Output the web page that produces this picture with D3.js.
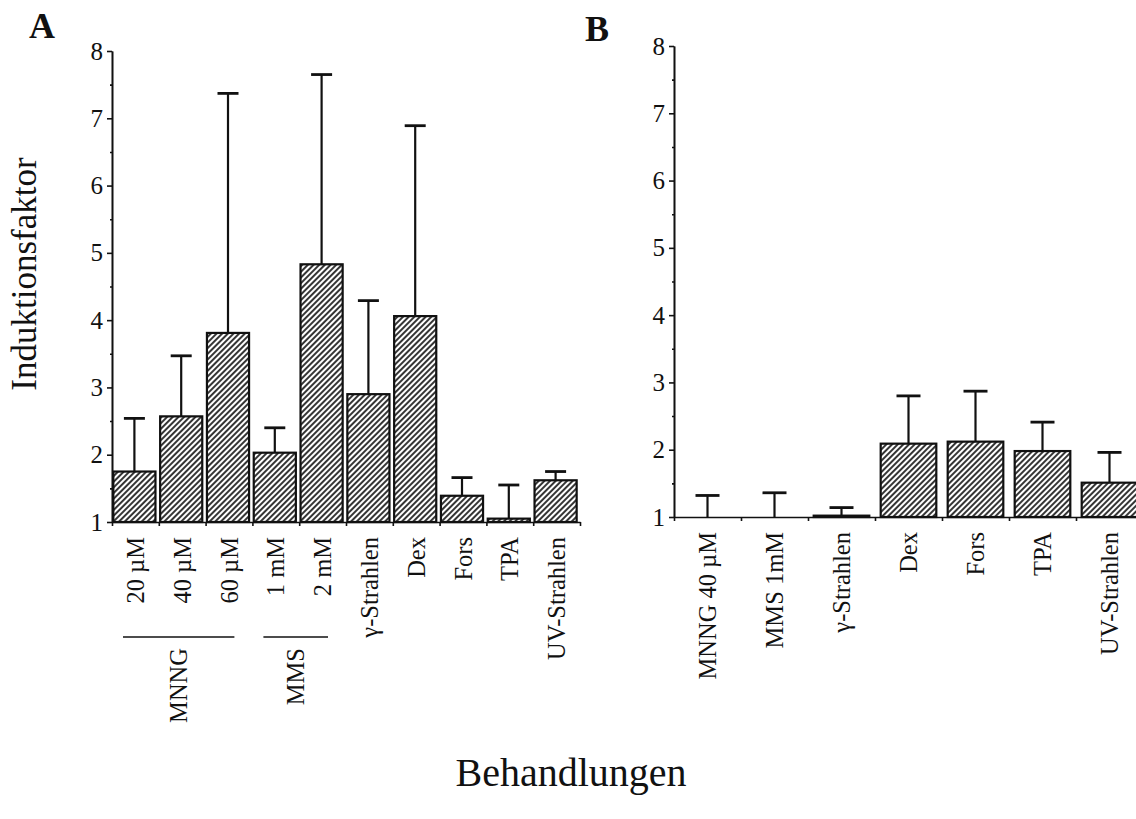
<!DOCTYPE html>
<meta charset="utf-8">
<style type="text/css">
    body { margin: 0; background: #fff; }
    text { font-family: "Liberation Serif", "Times New Roman", serif; fill: #111; }
    .axis path, .axis line { stroke: #111; stroke-width: 1.6; }
    .axis text { font-size: 25px; font-family: "Liberation Serif", serif; fill: #111; }
    .bar { fill: url(#hatch); stroke: #111; stroke-width: 2.2; }
    .err { stroke: #111; stroke-width: 2.2; fill: none; }
    .cap { stroke: #111; stroke-width: 2.8; }
    .cat { font-size: 24.5px; }
</style>
<body>
</body>
<script src="https://d3js.org/d3.v7.min.js"></script>
<script>

    // Panel A data
    var catsA = ["20 µM", "40 µM", "60 µM", "1 mM", "2 mM", "γ-Strahlen", "Dex", "Fors", "TPA", "UV-Strahlen"];
    var meanA = [1.75, 2.57, 3.81, 2.03, 4.83, 2.90, 4.06, 1.39, 1.05, 1.62];
    var upperA = [2.54, 3.47, 7.37, 2.40, 7.65, 4.29, 6.89, 1.66, 1.55, 1.75];

    // groups under panel A (first / last category index)
    var groupsA = [
        {name: "MNNG", from: 0, to: 2},
        {name: "MMS", from: 3, to: 4}
    ];

    // Panel B data
    var catsB = ["MNNG 40 µM", "MMS 1mM", "γ-Strahlen", "Dex", "Fors", "TPA", "UV-Strahlen"];
    var meanB = [1.0, 1.0, 1.02, 2.09, 2.12, 1.98, 1.51];
    var upperB = [1.32, 1.36, 1.14, 2.80, 2.87, 2.41, 1.96];

    var yTicks = [1, 2, 3, 4, 5, 6, 7, 8];
    var yMinor = [1.5, 2.5, 3.5, 4.5, 5.5, 6.5, 7.5];

    var width = 1136, height = 819;

    var svg = d3.select("body").append("svg")
        .attr("width", width)
        .attr("height", height);

    // diagonal hatch for the bars
    var pat = svg.append("defs").append("pattern")
        .attr("id", "hatch")
        .attr("patternUnits", "userSpaceOnUse")
        .attr("width", 4)
        .attr("height", 4)
        .attr("patternTransform", "rotate(45)");
    pat.append("rect").attr("width", 4).attr("height", 4).attr("fill", "#fff");
    pat.append("line")
        .attr("x1", 1).attr("y1", 0).attr("x2", 1).attr("y2", 4)
        .attr("stroke", "#111").attr("stroke-width", 1.7);

    function drawPanel(p) {
        var n = p.cats.length;
        var g = svg.append("g");

        var y = d3.scaleLinear().domain([1, 8]).range([p.y0, p.y1]);
        var x = d3.scaleBand().domain(p.cats).range([p.x0, p.x1])
            .paddingInner(p.pad).paddingOuter(p.pad / 2);
        // linear scale used only for the band boundary ticks
        var xb = d3.scaleLinear().domain([0, n]).range([p.x0, p.x1]);

        var data = p.cats.map(function(c, i) { return {c: c, m: p.mean[i], u: p.upper[i]}; });

        // y axis, major and minor ticks
        g.append("g").attr("class", "axis")
            .attr("transform", "translate(" + p.x0 + ",0)")
            .call(d3.axisLeft(y).tickValues(yTicks).tickSize(5).tickSizeOuter(0).tickPadding(4).tickFormat(d3.format("d")));
        g.append("g").attr("class", "axis")
            .attr("transform", "translate(" + p.x0 + ",0)")
            .call(d3.axisLeft(y).tickValues(yMinor).tickSize(2).tickSizeOuter(0).tickFormat(""));

        // error bars
        g.selectAll(".err")
            .data(data)
            .enter().append("line")
            .attr("class", "err")
            .attr("x1", function(d) { return x(d.c) + x.bandwidth() / 2 + p.shift; })
            .attr("x2", function(d) { return x(d.c) + x.bandwidth() / 2 + p.shift; })
            .attr("y1", function(d) { return y(d.m); })
            .attr("y2", function(d) { return y(d.u); });
        g.selectAll(".cap")
            .data(data)
            .enter().append("line")
            .attr("class", "cap")
            .attr("x1", function(d) { return x(d.c) + x.bandwidth() / 2 + p.shift - p.cap / 2; })
            .attr("x2", function(d) { return x(d.c) + x.bandwidth() / 2 + p.shift + p.cap / 2; })
            .attr("y1", function(d) { return y(d.u); })
            .attr("y2", function(d) { return y(d.u); });

        // bars
        g.selectAll(".bar")
            .data(data)
            .enter().append("rect")
            .attr("class", "bar")
            .attr("x", function(d) { return x(d.c) + p.shift; })
            .attr("width", x.bandwidth())
            .attr("y", function(d) { return y(d.m); })
            .attr("height", function(d) { return y(1) - y(d.m); });

        // x axis with ticks on the category boundaries
        g.append("g").attr("class", "axis")
            .attr("transform", "translate(0," + p.y0 + ")")
            .call(d3.axisBottom(xb).ticks(n).tickSize(4).tickSizeOuter(0).tickFormat(""));

        // rotated category labels
        g.selectAll(".cat")
            .data(data)
            .enter().append("text")
            .attr("class", "cat")
            .attr("transform", function(d) {
                return "translate(" + (x(d.c) + x.bandwidth() / 2) + "," + (p.y0 + 15) + ") rotate(-90)";
            })
            .attr("dy", "0.35em")
            .attr("text-anchor", "end")
            .text(function(d) { return d.c; });

        return {x: x, xb: xb, y: y};
    }

    var A = drawPanel({cats: catsA, mean: meanA, upper: upperA,
        x0: 112, x1: 580, y0: 522, y1: 51, pad: 0.1, shift: -1, cap: 21});
    var B = drawPanel({cats: catsB, mean: meanB, upper: upperB,
        x0: 674, x1: 1143, y0: 517, y1: 46, pad: 0.17, shift: 0, cap: 24});

    // group brackets under panel A
    groupsA.forEach(function(gr) {
        var a = A.xb(gr.from) + 11, b = A.xb(gr.to + 1) - 18;
        svg.append("line")
            .attr("x1", a).attr("x2", b)
            .attr("y1", 637).attr("y2", 637)
            .attr("stroke", "#111").attr("stroke-width", 1.6);
        svg.append("text")
            .attr("class", "cat")
            .attr("transform", "translate(" + ((a + b) / 2) + ",648) rotate(-90)")
            .attr("dy", "0.35em")
            .attr("text-anchor", "end")
            .text(gr.name);
    });

    // panel letters and titles
    svg.append("text").attr("x", 29).attr("y", 38)
        .style("font-size", "36px").style("font-weight", "bold").text("A");
    svg.append("text").attr("x", 585).attr("y", 41)
        .style("font-size", "36px").style("font-weight", "bold").text("B");

    svg.append("text")
        .attr("transform", "translate(36,274) rotate(-90)")
        .attr("text-anchor", "middle")
        .style("font-size", "35px")
        .text("Induktionsfaktor");

    svg.append("text")
        .attr("x", 571).attr("y", 786)
        .attr("text-anchor", "middle")
        .style("font-size", "40px")
        .text("Behandlungen");

</script>
